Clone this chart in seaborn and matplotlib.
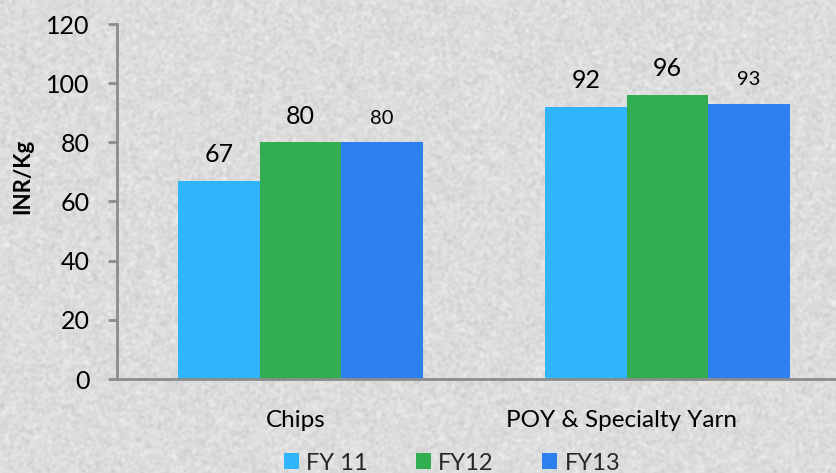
import numpy as np
import pandas as pd
import matplotlib
matplotlib.use("Agg")
import matplotlib.pyplot as plt
from matplotlib.patches import Patch
from matplotlib.transforms import ScaledTranslation
import seaborn as sns

# Average realisation, INR per kg
categories = ["Chips", "POY & Specialty Yarn"]
years = ["FY 11", "FY12", "FY13"]
fy11 = [67, 92]
fy12 = [80, 96]
fy13 = [80, 93]
y_ticks = [0, 20, 40, 60, 80, 100, 120]

colors = {"FY 11": "#30b4fc", "FY12": "#33ad51", "FY13": "#2d80ef"}
spine_col = "#8c8c8c"
font = "Lato"

df = pd.DataFrame({
    "category": categories * 3,
    "year": [y for y in years for _ in categories],
    "value": fy11 + fy12 + fy13,
})

sns.set_theme(style="white")
plt.rcParams["font.family"] = [font, "DejaVu Sans"]

W, H, DPI = 836, 473, 100
fig = plt.figure(figsize=(W / DPI, H / DPI), dpi=DPI)

# light grey paper-like backdrop
rng = np.random.default_rng(3)
noise = rng.normal(0, 1, (H, W))
k = np.array([1, 2, 3, 2, 1], float)
k /= k.sum()
noise = np.apply_along_axis(lambda r: np.convolve(r, k, mode="same"), 1, noise)
noise = np.apply_along_axis(lambda c: np.convolve(c, k, mode="same"), 0, noise)
tex = np.clip(0.862 + 0.018 * noise / noise.std(), 0, 1)
fig.figimage(tex, cmap="gray", vmin=0, vmax=1, zorder=-10)
fig.patch.set_alpha(0)

# plot area runs past the right edge of the canvas
ax = fig.add_axes([117 / W, 94 / H, 734 / W, 355 / H])
ax.set_zorder(5)
ax.patch.set_alpha(0)

sns.barplot(data=df, x="category", y="value", hue="year", order=categories,
            hue_order=years, palette=colors, width=0.667, saturation=1,
            linewidth=0, legend=False, ax=ax)

ax.set_xlim(-0.5, 1.5)
ax.set_ylim(0, 120)
ax.set_yticks(y_ticks)
ax.set_yticklabels([str(t) for t in y_ticks], fontsize=18, color="black")

# category labels centred, tick marks between categories
ax.set_xticks([0, 1])
ax.set_xticklabels(categories, fontsize=17.5, color="black")
ax.set_xticks([-0.5, 0.5, 1.5], minor=True)
ax.tick_params(axis="x", which="major", length=0, pad=22)
ax.tick_params(axis="x", which="minor", length=6, width=2, color=spine_col,
               direction="out")
ax.tick_params(axis="y", length=6.5, width=2, color=spine_col,
               direction="out", pad=13, left=True)
shifts = [-5, -46]
for lbl, dx in zip(ax.get_xticklabels(), shifts):
    lbl.set_transform(lbl.get_transform() + ScaledTranslation(dx / DPI, 0, fig.dpi_scale_trans))

for side in ["top", "right"]:
    ax.spines[side].set_visible(False)
for side in ["left", "bottom"]:
    ax.spines[side].set_color(spine_col)
    ax.spines[side].set_linewidth(2)

ax.set_xlabel("")
ax.set_ylabel("INR/Kg", fontsize=16, fontweight="bold", color="black")
ax.yaxis.set_label_coords(-84 / 734, 0.57)
ax.grid(False)

# value labels above each bar
label_sizes = {"FY 11": 18, "FY12": 18, "FY13": 14.5}
for cont, yr in zip(ax.containers, years):
    for bar in cont:
        h = bar.get_height()
        ax.annotate(f"{h:.0f}", (bar.get_x() + bar.get_width() / 2, h),
                    xytext=(0, 13.5), textcoords="offset points",
                    ha="center", va="baseline", fontsize=label_sizes[yr],
                    color="black")

handles = [Patch(facecolor=colors[y], edgecolor="none", label=y) for y in years]
leg = fig.legend(handles=handles, loc="center", ncol=3, frameon=False,
                 bbox_to_anchor=(452 / W, 1 - 463 / H), fontsize=17,
                 handlelength=0.64, handleheight=0.64, handletextpad=0.3,
                 columnspacing=2.05, borderpad=0)
leg.set_zorder(6)

fig.savefig("out.png", dpi=DPI)
